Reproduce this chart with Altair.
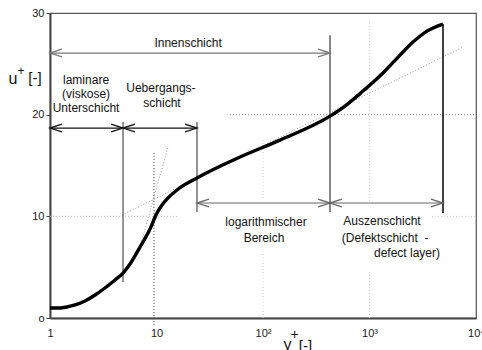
import altair as alt
import pandas as pd

FONT = "Liberation Sans"

# Velocity profile u+(y+) of a turbulent boundary layer
curve_yplus = [1.0, 1.24, 1.44, 1.72, 2.13, 2.65, 3.28, 4.08, 4.85, 5.64, 7.0, 8.69,
               9.89, 11.26, 12.82, 15.57, 24.0, 60.8, 144.4, 425.7, 588.8, 868.9,
               1339, 1934, 2561, 3467, 4899]
curve_uplus = [0.98, 0.98, 1.08, 1.28, 1.67, 2.26, 2.95, 3.74, 4.42, 5.31, 6.98, 8.75,
               10.13, 11.11, 11.80, 12.59, 13.77, 15.83, 17.50, 19.86, 20.85, 22.32,
               24.09, 25.86, 27.14, 28.22, 28.91]

# Asymptotes: logarithmic law and linear (viscous) law
loglaw_yplus = [4.74, 7550]
loglaw_uplus = [10.13, 26.65]
linlaw_yplus = [7.0, 12.82]
linlaw_uplus = [6.98, 16.81]

# Layer boundaries (vertical lines)
bound_yplus = [4.85, 24.0, 425.7, 4899]
bound_ulow = [3.54, 10.42, 10.42, 10.32]
bound_uhigh = [19.27, 19.27, 27.8, 28.91]
bound_color = ["#7a7a7a", "#7a7a7a", "#6a6a6a", "#111111"]

# Double-headed range arrows
arrow_from = [1.0, 1.0, 4.85, 24.0, 425.7]
arrow_to = [425.7, 4.85, 24.0, 425.7, 4899]
arrow_u = [26.06, 18.68, 18.68, 11.31, 11.31]
arrow_color = ["#777777", "#111111", "#111111", "#666666", "#666666"]

# Region labels
label_text = ["Innenschicht", "laminare", "(viskose)", "Unterschicht", "Uebergangs-",
              "schicht", "logarithmischer", "Bereich", "Auszenschicht",
              "(Defektschicht\u00a0\u00a0-", "defect layer)"]
label_yplus = [19.8, 2.18, 2.18, 2.18, 11.0, 11.26, 106.7, 102.2, 1310, 1400, 2249]
label_uplus = [27.04, 23.40, 22.03, 20.65, 22.62, 21.14, 9.44, 7.87, 9.54, 7.87, 6.39]

# Dotted guide lines: (y+ start, y+ end, u+ start, u+ end, colour)
guide_y1 = [1.0, 3863, 49.0, 100, 100, 1000, 1000, 9.47]
guide_y2 = [15.9, 10000, 10000, 100, 100, 1000, 1000, 9.47]
guide_u1 = [10, 10, 20, 0, 11.8, 0, 11.5, -0.7]
guide_u2 = [10, 10, 20, 6.5, 17.5, 4.7, 29.3, 16.3]
guide_color = ["#c0c0c0", "#c8c8c8", "#808080", "#d0d0d0", "#d0d0d0", "#d0d0d0",
               "#d0d0d0", "#333333"]

xscale = alt.Scale(type="log", domain=[1, 10000], nice=False)
yscale = alt.Scale(domain=[0, 30], nice=False, zero=False)

x_axis = alt.Axis(
    values=[1, 10, 100, 1000, 10000],
    labelExpr="datum.value == 1 ? '1' : datum.value == 10 ? '10' : datum.value == 100 ? '10²' : datum.value == 1000 ? '10³' : '10⁴'",
    ticks=False, grid=False, title=None, labelFont=FONT, labelFontSize=11,
    labelPadding=9, labelColor="#222222", domainColor="#444444", domainWidth=2,
    labelFlush=False,
)
y_axis = alt.Axis(
    values=[0, 10, 20, 30],
    labelExpr="datum.value == 0 ? 'o' : datum.label",
    grid=False, title=None, tickSize=4, tickColor="#444444", labelFont=FONT,
    labelFontSize=11, labelPadding=2, labelColor="#222222", domainColor="#444444",
    domainWidth=2, labelFlush=False,
)

curve_df = pd.DataFrame({"yplus": curve_yplus, "uplus": curve_uplus})
guides_df = pd.DataFrame({"y1": guide_y1, "y2": guide_y2, "u1": guide_u1,
                          "u2": guide_u2, "c": guide_color})
log_df = pd.DataFrame({"yplus": loglaw_yplus, "uplus": loglaw_uplus})
lin_df = pd.DataFrame({"yplus": linlaw_yplus, "uplus": linlaw_uplus})
bound_df = pd.DataFrame({"yplus": bound_yplus, "lo": bound_ulow, "hi": bound_uhigh,
                         "c": bound_color})
arrow_df = pd.DataFrame({"a": arrow_from, "b": arrow_to, "u": arrow_u, "c": arrow_color})
heads_df = pd.DataFrame({
    "yplus": arrow_from + arrow_to,
    "u": arrow_u + arrow_u,
    "c": arrow_color + arrow_color,
    "dir": ["L"] * len(arrow_from) + ["R"] * len(arrow_to),
})
labels_df = pd.DataFrame({"yplus": label_yplus, "uplus": label_uplus, "t": label_text})

guides = alt.Chart(guides_df).mark_rule(strokeDash=[1, 2], strokeWidth=1, clip=False).encode(
    x=alt.X("y1:Q", scale=xscale, axis=x_axis), x2="y2:Q",
    y=alt.Y("u1:Q", scale=yscale, axis=y_axis), y2="u2:Q",
    color=alt.Color("c:N", scale=None),
)

loglaw = alt.Chart(log_df).mark_line(strokeDash=[1, 2], strokeWidth=1, color="#999999").encode(
    x=alt.X("yplus:Q", scale=xscale), y=alt.Y("uplus:Q", scale=yscale))
linlaw = alt.Chart(lin_df).mark_line(strokeDash=[1, 2], strokeWidth=1, color="#999999").encode(
    x=alt.X("yplus:Q", scale=xscale), y=alt.Y("uplus:Q", scale=yscale))

bounds = alt.Chart(bound_df).mark_rule(strokeWidth=1.6).encode(
    x=alt.X("yplus:Q", scale=xscale), y=alt.Y("lo:Q", scale=yscale), y2="hi:Q",
    color=alt.Color("c:N", scale=None))

arrows = alt.Chart(arrow_df).mark_rule(strokeWidth=1.2).encode(
    x=alt.X("a:Q", scale=xscale), x2="b:Q", y=alt.Y("u:Q", scale=yscale),
    color=alt.Color("c:N", scale=None))

head_right = alt.Chart(heads_df).transform_filter("datum.dir == 'R'").mark_point(
    shape="M -3.4 -1.1 L 0 0 L -3.4 1.1", filled=False, size=49, strokeWidth=1.3, opacity=1
).encode(x=alt.X("yplus:Q", scale=xscale), y=alt.Y("u:Q", scale=yscale),
         color=alt.Color("c:N", scale=None))
head_left = alt.Chart(heads_df).transform_filter("datum.dir == 'L'").mark_point(
    shape="M 3.4 -1.1 L 0 0 L 3.4 1.1", filled=False, size=49, strokeWidth=1.3, opacity=1
).encode(x=alt.X("yplus:Q", scale=xscale), y=alt.Y("u:Q", scale=yscale),
         color=alt.Color("c:N", scale=None))

curve = alt.Chart(curve_df).mark_line(color="#000000", strokeWidth=3.4,
                                      interpolate="monotone").encode(
    x=alt.X("yplus:Q", scale=xscale), y=alt.Y("uplus:Q", scale=yscale))

labels = alt.Chart(labels_df).mark_text(font=FONT, fontSize=12, color="#111111",
                                        baseline="middle", align="center").encode(
    x=alt.X("yplus:Q", scale=xscale), y=alt.Y("uplus:Q", scale=yscale), text="t:N")

# Axis titles u+[-] and y+[-] with raised plus signs
title_text = ["u", "+", "[-]", "y", "+", "[-]"]
title_x = [-37, -29, -15, 237.5, 244.5, 255.5]
title_y = [66, 58, 65, 332, 322, 333]
title_size = [16, 12, 15, 16, 14, 15]
titles = [
    alt.Chart(pd.DataFrame({"t": [t]})).mark_text(
        font=FONT, fontSize=s, color="#111111", align="center", baseline="middle"
    ).encode(x=alt.value(px), y=alt.value(py), text="t:N")
    for t, px, py, s in zip(title_text, title_x, title_y, title_size)
]

chart = alt.layer(guides, loglaw, linlaw, bounds, arrows, head_right, head_left, curve,
                  labels, *titles).properties(
    width=426, height=305,
    autosize=alt.AutoSizeParams(type="none"),
    padding={"left": 50, "top": 13, "right": 6, "bottom": 32},
    background="white",
).configure_view(stroke="#555555", strokeWidth=1.2)

chart.save("out.html", embed_options={"renderer": "svg", "actions": False})
